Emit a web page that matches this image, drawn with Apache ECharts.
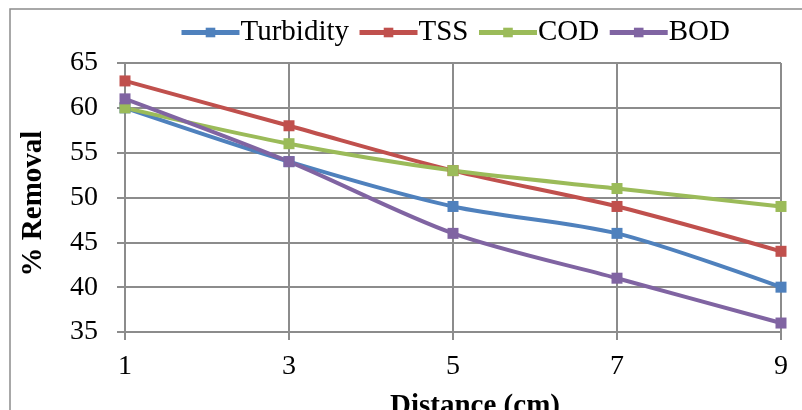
<!DOCTYPE html>
<html>
<head>
<meta charset="utf-8">
<script src="https://cdn.jsdelivr.net/npm/echarts@6/dist/echarts.min.js"></script>
<style>
html, body { margin: 0; padding: 0; background: #fff; }
#chart { width: 802px; height: 410px; }
</style>
</head>
<body>
<div id="chart"></div>
<script>
// distance (cm)
var distances = ['1', '3', '5', '7', '9'];
var turbidity = [60, 54, 49, 46, 40];
var tss = [63, 58, 53, 49, 44];
var cod = [60, 56, 53, 51, 49];
var bod = [61, 54, 46, 41, 36];

var serifFont = '"Liberation Serif", "Times New Roman", serif';

function lineSeries(name, data, color) {
    return {
        name: name,
        type: 'line',
        smooth: 0.3,
        data: data,
        symbol: 'rect',
        symbolSize: 11,
        lineStyle: { width: 4, color: color },
        itemStyle: { color: color }
    };
}

var option = {
    animation: false,
    backgroundColor: '#fff',
    graphic: [{
        type: 'rect',
        shape: { x: 10, y: 9, width: 800, height: 410 },
        style: { fill: 'none', stroke: '#8c8c8c', lineWidth: 1.5 },
        silent: true
    }],
    legend: {
        top: 13,
        left: 174,
        itemWidth: 58,
        itemHeight: 12,
        itemGap: 8,
        lineStyle: { width: 5 },
        textStyle: { fontFamily: serifFont, fontSize: 29, color: '#000', padding: [0, 0, 0, -4] },
        data: ['Turbidity', 'TSS', 'COD', 'BOD']
    },
    grid: {
        left: 125,
        right: 21,
        top: 63,
        bottom: 78,
        containLabel: false,
        outerBoundsMode: 'none'
    },
    xAxis: {
        type: 'category',
        boundaryGap: false,
        data: distances,
        name: 'Distance (cm)',
        nameLocation: 'middle',
        nameGap: 60,
        nameMoveOverlap: false,
        nameTextStyle: { fontFamily: serifFont, fontSize: 29, fontWeight: 'bold', color: '#000', padding: [0, 0, 0, 44] },
        axisLine: { lineStyle: { color: '#8c8c8c', width: 2 } },
        axisTick: { show: true, length: 8, lineStyle: { color: '#8c8c8c', width: 2 } },
        axisLabel: { fontFamily: serifFont, fontSize: 28, color: '#000', margin: 21 },
        splitLine: { show: true, lineStyle: { color: '#8c8c8c', width: 2 } }
    },
    yAxis: {
        type: 'value',
        min: 35,
        max: 65,
        interval: 5,
        name: '% Removal',
        nameLocation: 'middle',
        nameGap: 77,
        nameTextStyle: { fontFamily: serifFont, fontSize: 29, fontWeight: 'bold', color: '#000', padding: [0, 12, 0, 0] },
        axisLine: { show: true, lineStyle: { color: '#8c8c8c', width: 2 } },
        axisTick: { show: true, length: 8, lineStyle: { color: '#8c8c8c', width: 2 } },
        axisLabel: { fontFamily: serifFont, fontSize: 28, color: '#000', margin: 27 },
        splitLine: { show: true, lineStyle: { color: '#8c8c8c', width: 2 } }
    },
    series: [
        lineSeries('Turbidity', turbidity, '#4f81bd'),
        lineSeries('TSS', tss, '#c0504d'),
        lineSeries('COD', cod, '#9bbb59'),
        lineSeries('BOD', bod, '#8064a2')
    ]
};

var chart = echarts.init(document.getElementById('chart'));
chart.setOption(option);
</script>
</body>
</html>
